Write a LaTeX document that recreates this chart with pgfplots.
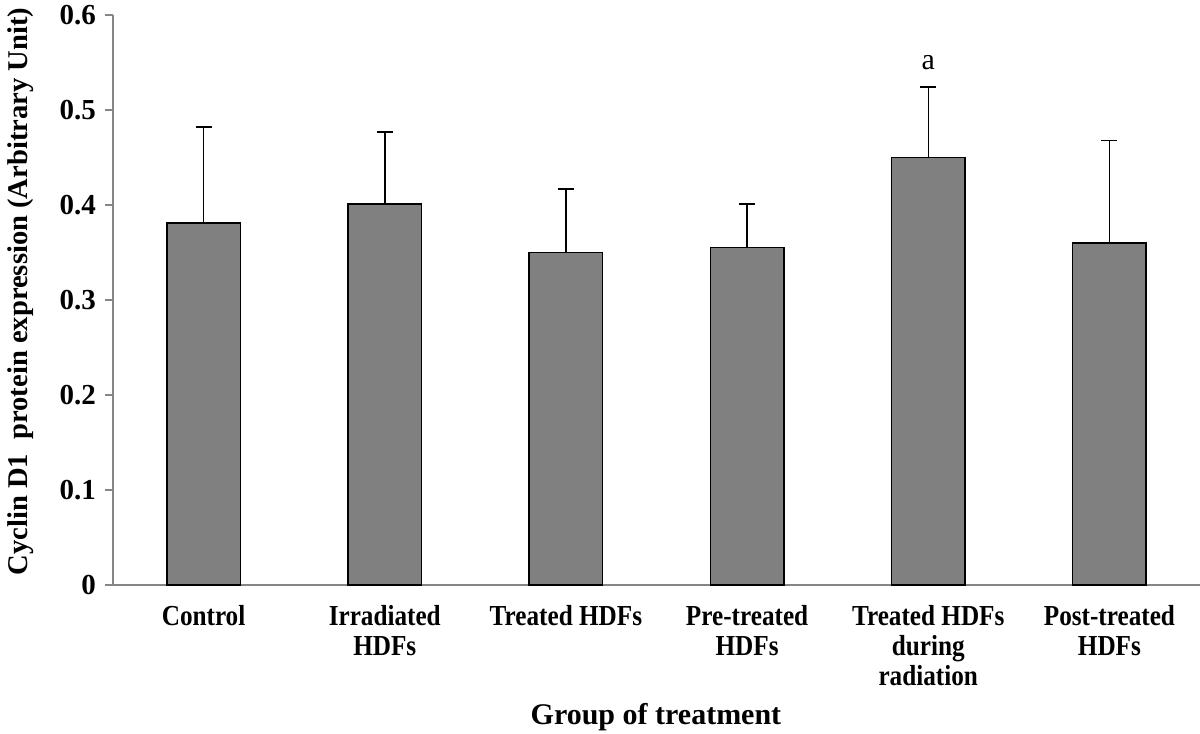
\documentclass[border=0pt]{standalone}
\usepackage{fontspec}
\setmainfont{Liberation Serif}
\usepackage{pgfplots}
\pgfplotsset{compat=1.18}
\usetikzlibrary{calc}
\definecolor{barfill}{RGB}{128,128,128}
\definecolor{axgray}{RGB}{134,134,134}
\begin{document}
\begin{tikzpicture}
\begin{axis}[
  scale only axis, width=543.5pt, height=285pt,
  xmin=-0.5, xmax=5.5, ymin=0, ymax=0.6,
  axis lines*=left,
  axis line style={axgray, line width=1pt},
  ytick={0,0.1,0.2,0.3,0.4,0.5,0.6},
  yticklabels={0,0.1,0.2,0.3,0.4,0.5,0.6},
  ytick style={axgray, line width=1pt},
  tick align=outside, major tick length=4pt,
  xtick={0,1,2,3,4,5},
  xtick style={draw=none},
  xticklabels={Control, {Irradiated\\HDFs}, Treated HDFs, {Pre-treated\\HDFs}, {Treated HDFs\\during\\radiation}, {Post-treated\\HDFs}},
  xticklabel style={font=\bfseries\fontsize{12.6}{13}\selectfont, align=center, yscale=1.15, yshift=-2pt},
  yticklabel style={font=\bfseries\fontsize{14.5}{16}\selectfont, xshift=-1pt},
  ylabel={Cyclin D1\ \ protein expression (Arbitrary Unit)},
  xlabel={Group of treatment},
  every axis y label/.style={at={(axis description cs:-0.085,0.515)}, rotate=90, anchor=center, font=\bfseries\fontsize{14.3}{16}\selectfont},
  every axis x label/.style={at={(axis description cs:0.4995,-0.2316)}, anchor=center, font=\bfseries\fontsize{15}{18}\selectfont},
  clip=false,
]
\addplot[ybar, bar width=36.7pt, fill=barfill, draw=black, line width=0.75pt,
  error bars/.cd, y dir=plus, y explicit,
  error bar style={line width=0.75pt, black},
  error mark options={rotate=90, mark size=4pt, line width=0.75pt, black}]
  coordinates {
  (0,0.381) +- (0,0.101)
  (1,0.401) +- (0,0.076)
  (2,0.350) +- (0,0.067)
  (3,0.355) +- (0,0.046)
  (4,0.450) +- (0,0.074)
  (5,0.360) +- (0,0.108)
  };
\node[anchor=base, font=\fontsize{15}{18}\selectfont] at (axis cs:4,0.543) {a};
\coordinate (O) at (rel axis cs:0,0);
\coordinate (T) at (rel axis cs:1,1);
\end{axis}
\pgfresetboundingbox
\path[use as bounding box] ($(O)+(-56.5pt,-74.5pt)$) rectangle ($(T)+(0pt,7.5pt)$);
\end{tikzpicture}
\end{document}
